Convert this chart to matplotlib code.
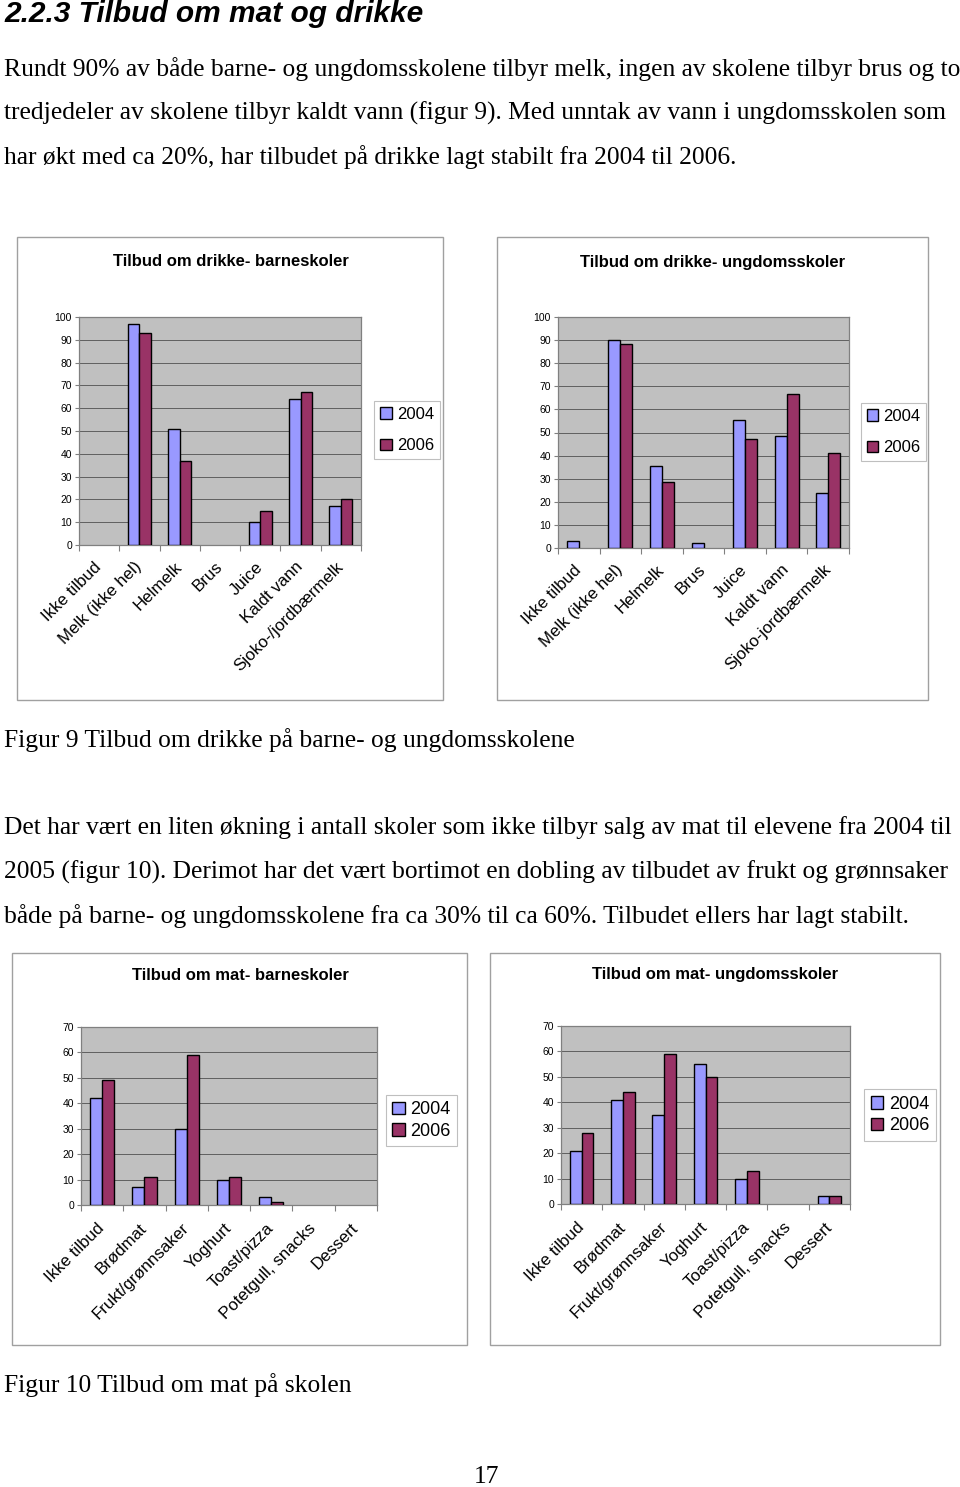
import numpy as np
import matplotlib.pyplot as plt
from matplotlib.patches import Rectangle, Patch

W, H = 960, 1487

# ---------------------------------------------------------------
# Data (percent of schools)
# ---------------------------------------------------------------
drink_cats = ['Ikke tilbud', 'Melk (ikke hel)', 'Helmelk', 'Brus', 'Juice',
              'Kaldt vann', 'Sjoko-/jordbærmelk']
drink_cats_u = ['Ikke tilbud', 'Melk (ikke hel)', 'Helmelk', 'Brus', 'Juice',
                'Kaldt vann', 'Sjoko-jordbærmelk']
drink_barn_2004 = [0, 97, 51, 0, 10, 64, 17]
drink_barn_2006 = [0, 93, 37, 0, 15, 67, 20]
drink_ungd_2004 = [3, 90, 35.5, 2, 55.5, 48.5, 24]
drink_ungd_2006 = [0, 88.5, 28.5, 0, 47, 66.5, 41]

food_cats = ['Ikke tilbud', 'Brødmat', 'Frukt/grønnsaker', 'Yoghurt',
             'Toast/pizza', 'Potetgull, snacks', 'Dessert']
food_barn_2004 = [42, 7, 30, 10, 3, 0, 0]
food_barn_2006 = [49, 11, 59, 11, 1, 0, 0]
food_ungd_2004 = [21, 41, 35, 55, 10, 0, 3]
food_ungd_2006 = [28, 44, 59, 50, 13, 0, 3]

years = ['2004', '2006']
C04, C06 = '#9999ff', '#993366'

fig = plt.figure(figsize=(W / 100, H / 100), dpi=100)
fig.patch.set_facecolor('white')


def fx(x):
    return x / W


def fy(y):
    return 1 - y / H


def frame(x0, y0, x1, y1):
    fig.patches.append(Rectangle((fx(x0), fy(y1)), fx(x1 - x0), (y1 - y0) / H,
                                 transform=fig.transFigure, fill=False,
                                 edgecolor='#a0a0a0', linewidth=1.0))


def chart(box, plot, legbox, title, title_xy, cats, v04, v06, ymax, step,
          tick_fs=7.5, cat_fs=12.2, title_fs=12, leg_fs=12, leg_gap=1.0,
          cat_pad=14):
    frame(*box)
    px0, py0, px1, py1 = plot
    ax = fig.add_axes([fx(px0), fy(py1), fx(px1 - px0), (py1 - py0) / H])
    ax.set_facecolor('#c0c0c0')
    x = np.arange(len(cats))
    w = 1 / 3.5
    # Excel draws nothing for a zero value
    ec04 = ['black' if v > 0 else 'none' for v in v04]
    ec06 = ['black' if v > 0 else 'none' for v in v06]
    ax.bar(x - w / 2, v04, w, color=C04, edgecolor=ec04, linewidth=1.0, zorder=3)
    ax.bar(x + w / 2, v06, w, color=C06, edgecolor=ec06, linewidth=1.0, zorder=3)
    ax.set_xlim(-0.5, len(cats) - 0.5)
    ax.set_ylim(0, ymax)
    ax.set_yticks(np.arange(0, ymax + 1, step))
    ax.yaxis.grid(True, color='#505050', linewidth=0.6, zorder=1)
    ax.set_axisbelow(True)
    ax.tick_params(axis='y', labelsize=tick_fs, length=3, color='#808080', pad=2)
    ax.set_xticks(np.arange(-0.5, len(cats)), minor=False)
    ax.set_xticklabels([])
    ax.tick_params(axis='x', length=4, color='#808080', direction='out')
    ax.set_xticks(x, minor=True)
    ax.set_xticklabels(cats, minor=True, rotation=45, ha='right', va='center',
                       rotation_mode='anchor', fontsize=cat_fs)
    ax.tick_params(axis='x', which='minor', length=0, pad=cat_pad)
    for s in ax.spines.values():
        s.set_color('#808080')
        s.set_linewidth(0.9)
    fig.text(fx(title_xy[0]), fy(title_xy[1]), title, ha='center', va='center',
             fontsize=title_fs, fontweight='bold')
    lx0, ly0, lx1, ly1 = legbox
    handles = [Patch(facecolor=C04, edgecolor='black'),
               Patch(facecolor=C06, edgecolor='black')]
    leg = fig.legend(handles, years, loc='center',
                     bbox_to_anchor=(fx((lx0 + lx1) / 2), fy((ly0 + ly1) / 2)),
                     fontsize=leg_fs, frameon=True, fancybox=False,
                     handlelength=0.7, handleheight=0.7, handletextpad=0.3,
                     labelspacing=leg_gap, borderpad=0.35, borderaxespad=0)
    leg.get_frame().set_edgecolor('#b0b0b0')
    leg.get_frame().set_linewidth(0.8)
    return ax


# ---------------------------------------------------------------
# Page text
# ---------------------------------------------------------------
fig.text(fx(4), fy(14), '2.2.3 Tilbud om mat og drikke', fontsize=21.5,
         fontweight='bold', style='italic', family='Liberation Sans',
         va='center', ha='left')

serif = dict(family='Liberation Serif', fontsize=18.4, va='center', ha='left')
para1 = ['Rundt 90% av både barne- og ungdomsskolene tilbyr melk, ingen av skolene tilbyr brus og to',
         'tredjedeler av skolene tilbyr kaldt vann (figur 9). Med unntak av vann i ungdomsskolen som',
         'har økt med ca 20%, har tilbudet på drikke lagt stabilt fra 2004 til 2006.']
for i, line in enumerate(para1):
    fig.text(fx(4), fy(69 + 44 * i), line, **serif)

fig.text(fx(4), fy(740), 'Figur 9 Tilbud om drikke på barne- og ungdomsskolene', **serif)

para2 = ['Det har vært en liten økning i antall skoler som ikke tilbyr salg av mat til elevene fra 2004 til',
         '2005 (figur 10). Derimot har det vært bortimot en dobling av tilbudet av frukt og grønnsaker',
         'både på barne- og ungdomsskolene fra ca 30% til ca 60%. Tilbudet ellers har lagt stabilt.']
for i, line in enumerate(para2):
    fig.text(fx(4), fy(828 + 44 * i), line, **serif)

fig.text(fx(4), fy(1385), 'Figur 10 Tilbud om mat på skolen', **serif)
fig.text(fx(487), fy(1477), '17', family='Liberation Serif', fontsize=18.4,
         ha='center', va='center')

plt.rcParams['font.family'] = ['Liberation Sans', 'DejaVu Sans']

# ---------------------------------------------------------------
# Charts
# ---------------------------------------------------------------
chart((17, 237, 443, 700), (79, 317, 361, 545), (377, 400, 437, 460),
      'Tilbud om drikke- barneskoler', (231, 262),
      drink_cats, drink_barn_2004, drink_barn_2006, 100, 10)
chart((497, 237, 928, 700), (558, 317, 849, 548), (864, 402, 923, 462),
      'Tilbud om drikke- ungdomsskoler', (713, 262),
      drink_cats_u, drink_ungd_2004, drink_ungd_2006, 100, 10)
chart((12, 953, 467, 1345), (81, 1027, 377, 1205), (391, 1096, 452, 1145),
      'Tilbud om mat- barneskoler', (240, 975),
      food_cats, food_barn_2004, food_barn_2006, 70, 10, leg_gap=0.25,
      leg_fs=13, cat_pad=15)
chart((490, 953, 940, 1345), (561, 1026, 850, 1204), (867, 1088, 933, 1142),
      'Tilbud om mat- ungdomsskoler', (715, 975),
      food_cats, food_ungd_2004, food_ungd_2006, 70, 10, leg_gap=0.25,
      leg_fs=13, cat_pad=15)

fig.savefig('out.png', dpi=100)
